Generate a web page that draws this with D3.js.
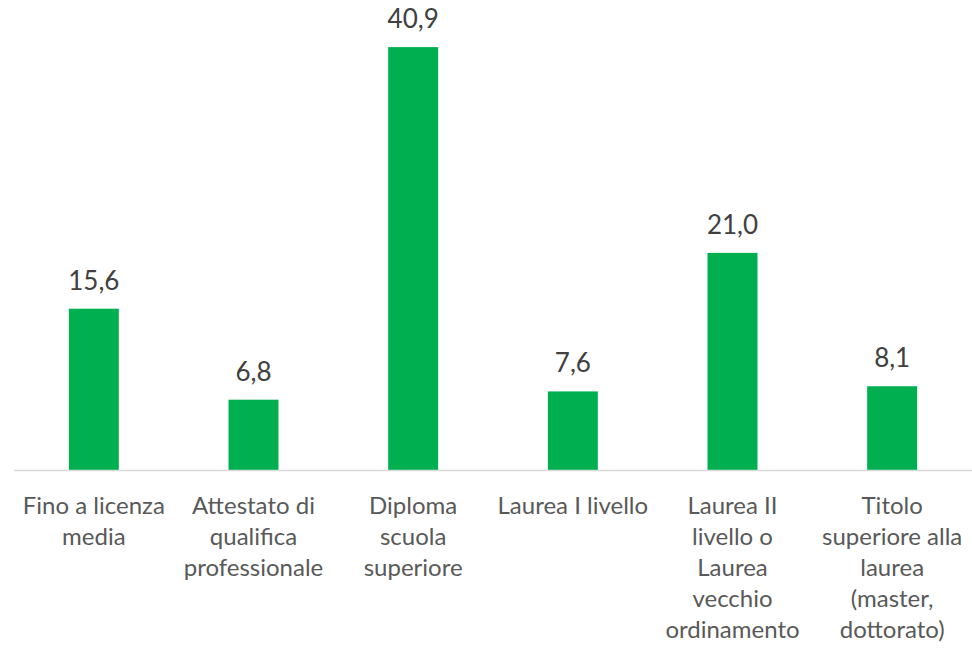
<!DOCTYPE html>
<html><head><meta charset="utf-8">
<script src="https://cdn.jsdelivr.net/npm/d3@7"></script>
<style>html,body{margin:0;padding:0;background:#fff;}</style>
</head><body>
<svg id="chart" width="972" height="649"></svg>
<script>
const categories = [
  "Fino a licenza\nmedia",
  "Attestato di\nqualifica\nprofessionale",
  "Diploma\nscuola\nsuperiore",
  "Laurea I livello",
  "Laurea II\nlivello o\nLaurea\nvecchio\nordinamento",
  "Titolo\nsuperiore alla\nlaurea\n(master,\ndottorato)"
];
const values = [15.6, 6.8, 40.9, 7.6, 21.0, 8.1];

const svg = d3.select("#chart");
const font = "Lato, 'Open Sans', sans-serif";
const x = d3.scaleBand().domain(categories).range([14, 972]).paddingInner(0.687).paddingOuter(0.3435);
const y = d3.scaleLinear().domain([0, 45]).range([470, 470 - 45 * 10.34]);

svg.selectAll("rect.bar").data(values).join("rect")
  .attr("class", "bar")
  .attr("x", (d, i) => x(categories[i]))
  .attr("width", x.bandwidth())
  .attr("y", d => y(d))
  .attr("height", d => y(0) - y(d))
  .attr("fill", "#00B050");

svg.append("line").attr("x1", 14).attr("x2", 972).attr("y1", y(0) + 0.5).attr("y2", y(0) + 0.5)
  .attr("stroke", "#D9D9D9").attr("stroke-width", 1.5);

const fmt = d => d.toFixed(1).replace(".", ",");
svg.selectAll("text.val").data(values).join("text")
  .attr("class", "val")
  .attr("x", (d, i) => x(categories[i]) + x.bandwidth() / 2)
  .attr("y", d => y(d) - 19)
  .attr("text-anchor", "middle")
  .attr("font-family", font).attr("font-size", 26).attr("fill", "#404040")
  .text(fmt);

const lbl = svg.selectAll("text.cat").data(categories).join("text")
  .attr("class", "cat")
  .attr("text-anchor", "middle")
  .attr("font-family", font).attr("font-size", 24).attr("fill", "#595959");
lbl.each(function(d) {
  const t = d3.select(this);
  d.split("\n").forEach((line, j) => {
    t.append("tspan").attr("x", x(d) + x.bandwidth() / 2).attr("y", 514 + j * 31).text(line);
  });
});
</script>
</body></html>
